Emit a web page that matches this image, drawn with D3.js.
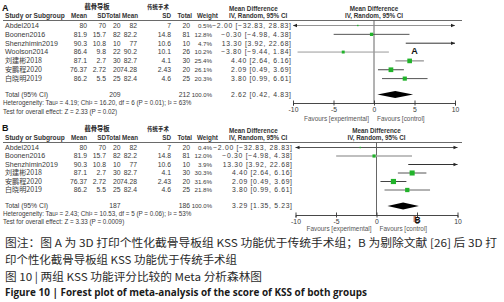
<!DOCTYPE html>
<html><head><meta charset="utf-8">
<script src="https://cdn.jsdelivr.net/npm/d3@7"></script>
<style>
html,body{margin:0;padding:0;background:#fff;}
svg{display:block;}
</style></head>
<body>
<svg id="chart" width="504" height="302"></svg>
<script>
// ---------- data ----------
const studiesA = ["Abdel2014","Boonen2016","Shenzhimin2019","Woolson2014","刘建彬2018","安鹏程2020","白晓明2019"];
const expMeanA = [80, 81.9, 90.3, 86.4, 87.1, 76.37, 86.2];
const expSDA   = [70, 15.7, 10.8, 9.8, 2.7, 2.72, 5.5];
const expNA    = [20, 82, 10, 22, 30, 20, 25];
const ctlMeanA = [82, 82.2, 77, 90.2, 82.7, 74.28, 82.4];
const ctlSDA   = [7, 14.8, 10.6, 10.1, 4.1, 2.43, 4.6];
const ctlNA    = [20, 81, 10, 26, 30, 20, 25];
const weightA  = [0.5, 12.8, 4.7, 10.2, 25.4, 26.1, 20.3];
const mdA      = [-2.00, -0.30, 13.30, -3.80, 4.40, 2.09, 3.80];
const loA      = [-32.83, -4.98, 3.92, -9.44, 2.64, 0.49, 0.99];
const hiA      = [28.83, 4.38, 22.68, 1.84, 6.16, 3.69, 6.61];
const totalA   = {expN: 209, ctlN: 212, md: 2.62, lo: 0.42, hi: 4.83};
const hetA     = "Heterogeneity: Tau² = 4.19; Chi² = 16.20, df = 6 (P = 0.01); I² = 63%";
const testA    = "Test for overall effect: Z = 2.33 (P = 0.02)";

const studiesB = ["Abdel2014","Boonen2016","Shenzhimin2019","刘建彬2018","安鹏程2020","白晓明2019"];
const expMeanB = [80, 81.9, 90.3, 87.1, 76.37, 86.2];
const expSDB   = [70, 15.7, 10.8, 2.7, 2.72, 5.5];
const expNB    = [20, 82, 10, 30, 20, 25];
const ctlMeanB = [82, 82.2, 77, 82.7, 74.28, 82.4];
const ctlSDB   = [7, 14.8, 10.6, 4.1, 2.43, 4.6];
const ctlNB    = [20, 81, 10, 30, 20, 25];
const weightB  = [0.4, 12.0, 3.9, 30.3, 31.6, 21.8];
const mdB      = [-2.00, -0.30, 13.30, 4.40, 2.09, 3.80];
const loB      = [-32.83, -4.98, 3.92, 2.64, 0.49, 0.99];
const hiB      = [28.83, 4.38, 22.68, 6.16, 3.69, 6.61];
const totalB   = {expN: 187, ctlN: 186, md: 3.29, lo: 1.35, hi: 5.23};
const hetB     = "Heterogeneity: Tau² = 2.43; Chi² = 10.53, df = 5 (P = 0.06); I² = 53%";
const testB    = "Test for overall effect: Z = 3.33 (P = 0.0009)";

const axisTicks = [-10, -5, 0, 5, 10];
const groupLabels = ["截骨导板", "传统手术"];
const colHeaders = ["Study or Subgroup","Mean","SD","Total","Mean","SD","Total","Weight"];
const captionLines = [
  "图注：图 A 为 3D 打印个性化截骨导板组 KSS 功能优于传统手术组；B 为剔除文献 [26] 后 3D 打",
  "印个性化截骨导板组 KSS 功能优于传统手术组",
  "图 10  |  两组 KSS 功能评分比较的 Meta 分析森林图",
  "Figure 10  |  Forest plot of meta-analysis of the score of KSS of both groups"
];

// ---------- drawing ----------
const svg = d3.select("#chart");
svg.append("rect").attr("width",504).attr("height",302).attr("fill","#fff");
const FONT = "'Liberation Sans', Arial, 'Noto Sans CJK SC', sans-serif";
const TXT = "#3a3a3a";
const fmt2 = d3.format(".2f");
const ciStr = (m, l, h) => `${fmt2(m)} [${fmt2(l)}, ${fmt2(h)}]`;

function drawPanel(cfg) {
  const g = svg.append("g");
  const n = cfg.studies.length;
  const y = d3.scalePoint().domain(cfg.studies).range([cfg.row0, cfg.row0 + cfg.rowStep*(n-1)]);
  const x = d3.scaleLinear().domain([-10, 10]).range(cfg.xr);

  const t = (xx, yy, s, opts={}) => g.append("text")
      .attr("x", xx).attr("y", yy).text(s)
      .attr("font-family", opts.family || FONT)
      .attr("font-size", opts.size || 6.8)
      .attr("font-weight", opts.weight || "normal")
      .attr("text-anchor", opts.anchor || "start")
      .attr("fill", opts.fill || TXT);
  const ciText = (yy, s) => {
    const el = t(cfg.ciRight, yy, s, {anchor: "end", size: 6.8});
    const w = el.node().getComputedTextLength();
    el.attr("textLength", w * 1.22).attr("lengthAdjust", "spacing");
    return el;
  };

  // panel letter
  t(2, cfg.letterY, cfg.letter, {size: 9, weight: "bold", fill: "#111"});
  // group labels
  t(97, cfg.groupY, groupLabels[0], {size: 6.3, weight:"bold", anchor:"middle", family:"'Noto Sans CJK SC'", fill:"#222"});
  t(158, cfg.groupY, groupLabels[1], {size: 5.4, weight:"bold", anchor:"middle", family:"'Noto Sans CJK SC'", fill:"#222"});
  // column headers
  const hy = cfg.headY;
  const hOpt = {size: 6.3, weight: "bold", fill: "#333"};
  t(5, hy, colHeaders[0], {...hOpt, size: 6.6});
  t(87, hy, colHeaders[1], {...hOpt, anchor:"end"});
  t(106, hy, colHeaders[2], {...hOpt, anchor:"end"});
  t(120.5, hy, colHeaders[3], {...hOpt, anchor:"end"});
  t(138, hy, colHeaders[4], {...hOpt, anchor:"end"});
  t(171, hy, colHeaders[5], {...hOpt, anchor:"end"});
  t(192, hy, colHeaders[6], {...hOpt, anchor:"end"});
  t(197, hy, colHeaders[7], hOpt);
  t(229, hy - 7.5, "Mean Difference", hOpt);
  t(229, hy, "IV, Random, 95% CI", hOpt);
  const xc = (cfg.xr[0] + cfg.xr[1]) / 2;
  t(xc, hy - 7.5, "Mean Difference", {...hOpt, anchor:"middle"});
  t(xc, hy, "IV, Random, 95% CI", {...hOpt, anchor:"middle"});
  // header rule
  g.append("line").attr("x1",3).attr("x2",462).attr("y1",cfg.ruleY).attr("y2",cfg.ruleY)
    .attr("stroke","#444").attr("stroke-width",0.8);

  // rows
  cfg.studies.forEach((s, i) => {
    const yy = y(s) + 2.4;
    const isCJK = /[\u4e00-\u9fff]/.test(s);
    t(5, yy, s, {family: isCJK ? "'Noto Sans CJK SC', sans-serif" : FONT, size: 7.1});
    t(87, yy, String(cfg.expMean[i]), {anchor:"end"});
    t(106, yy, String(cfg.expSD[i]), {anchor:"end"});
    t(120.5, yy, String(cfg.expN[i]), {anchor:"end"});
    t(137, yy, String(cfg.ctlMean[i]), {anchor:"end"});
    t(171, yy, String(cfg.ctlSD[i]), {anchor:"end"});
    t(190, yy, String(cfg.ctlN[i]), {anchor:"end"});
    t(212, yy, cfg.weight[i].toFixed(1) + "%", {anchor:"end", size: 6.2});
    ciText(yy, ciStr(cfg.md[i], cfg.lo[i], cfg.hi[i]));
  });

  // zero line
  g.append("line").attr("x1", x(0)).attr("x2", x(0)).attr("y1", cfg.ruleY).attr("y2", cfg.axisY)
    .attr("stroke", "#555").attr("stroke-width", 0.9);

  // CI lines
  cfg.studies.forEach((s, i) => {
    const yy = y(s);
    const lo = Math.max(cfg.lo[i], -10), hi = Math.min(cfg.hi[i], 10);
    const col = cfg.lineCol[i];
    g.append("line").attr("x1", x(lo)).attr("x2", x(hi)).attr("y1", yy).attr("y2", yy)
      .attr("stroke", col).attr("stroke-width", cfg.lineW[i]);
    if (cfg.hi[i] > 10) {
      const ax = x(10);
      g.append("path").attr("d", `M${ax},${yy} L${ax-4},${yy-1.8} L${ax-4},${yy+1.8} Z`).attr("fill", "#222");
    }
    if (cfg.lo[i] < -10) {
      const ax = x(-10);
      g.append("path").attr("d", `M${ax},${yy} L${ax+4},${yy-1.8} L${ax+4},${yy+1.8} Z`).attr("fill", "#222");
    }
    if (cfg.md[i] >= -10 && cfg.md[i] <= 10) {
      const side = Math.max(1.4, 9.2 * Math.sqrt(cfg.weight[i] / 100));
      g.append("rect").attr("x", x(cfg.md[i]) - side/2).attr("y", yy - side/2)
        .attr("width", side).attr("height", side).attr("fill", "#21b32a");
    }
  });

  // total row
  const ty = cfg.totalY;
  t(5, ty + 2.4, "Total (95% CI)");
  t(120.5, ty + 2.4, String(cfg.total.expN), {anchor:"end"});
  t(190, ty + 2.4, String(cfg.total.ctlN), {anchor:"end"});
  t(212, ty + 2.4, "100.0%", {anchor:"end", size: 6.0});
  ciText(ty + 2.4, ciStr(cfg.total.md, cfg.total.lo, cfg.total.hi));
  const dh = 3.4;
  g.append("path")
    .attr("d", `M${x(cfg.total.lo)},${ty} L${x(cfg.total.md)},${ty-dh} L${x(cfg.total.hi)},${ty} L${x(cfg.total.md)},${ty+dh} Z`)
    .attr("fill", "#000");
  t(3, cfg.hetY + 2.3, cfg.het, {size: 6.3});
  t(3, cfg.testY + 2.3, cfg.test, {size: 6.3});

  // axis
  const axis = d3.axisBottom(x).tickValues(axisTicks).tickSize(2.5).tickPadding(2).tickFormat(d3.format("d"));
  const ag = g.append("g").attr("transform", `translate(0,${cfg.axisY})`).call(axis);
  ag.select(".domain").attr("stroke", "#333").attr("stroke-width", 0.9);
  ag.selectAll(".tick line").attr("stroke", "#333").attr("y1", -2.5).attr("stroke-width", 0.9);
  ag.selectAll(".tick text").attr("font-family", FONT).attr("font-size", 6.8).attr("fill", TXT)
    .text(d => d < 0 ? "-" + Math.abs(d) : String(d));
  t(x(0) - 5, cfg.favY, "Favours [experimental]", {size: 6.4, anchor: "end", fill: "#555"});
  t(x(0) + 3, cfg.favY, "Favours [control]", {size: 6.4, fill: "#555"});
  return {g, x, y};
}

const pA = drawPanel({
  letter: "A", letterY: 11, groupY: 9, headY: 18, ruleY: 20.5,
  row0: 25.5, rowStep: 8.85, totalY: 94.5, hetY: 103, testY: 111.5,
  axisY: 103, favY: 120.5, xr: [293, 455], ciRight: 291,
  studies: studiesA, expMean: expMeanA, expSD: expSDA, expN: expNA,
  ctlMean: ctlMeanA, ctlSD: ctlSDA, ctlN: ctlNA, weight: weightA,
  md: mdA, lo: loA, hi: hiA, total: totalA, het: hetA, test: testA,
  lineCol: ["#888", "#555", "#333", "#999", "#777", "#444", "#555"],
  lineW: [0.9, 1, 1, 1, 1, 1, 1]
});
const pB = drawPanel({
  letter: "B", letterY: 131, groupY: 131, headY: 140, ruleY: 142.5,
  row0: 147.5, rowStep: 8.5, totalY: 206, hetY: 214, testY: 222,
  axisY: 215, favY: 231, xr: [295.5, 457.5], ciRight: 292,
  studies: studiesB, expMean: expMeanB, expSD: expSDB, expN: expNB,
  ctlMean: ctlMeanB, ctlSD: ctlSDB, ctlN: ctlNB, weight: weightB,
  md: mdB, lo: loB, hi: hiB, total: totalB, het: hetB, test: testB,
  lineCol: ["#555", "#aaa", "#333", "#555", "#444", "#666"],
  lineW: [1, 1.4, 1, 1, 1, 1]
});

// panel markers inside the forest plots
svg.append("text").attr("x", pA.x(5)).attr("y", 53.5).attr("text-anchor","middle")
  .attr("font-family", FONT).attr("font-size", 9).attr("font-weight","bold").attr("fill","#111").text("A");
svg.append("rect").attr("x", pB.x(5) - 3.5).attr("y", 216).attr("width", 2.6).attr("height", 6).attr("fill", "#c98563");
svg.append("text").attr("x", pB.x(5) + 0.5).attr("y", 222.5).attr("text-anchor","middle")
  .attr("font-family", FONT).attr("font-size", 8.5).attr("font-weight","bold").attr("fill","#111").text("B");

// caption
const capY = [247, 264, 281, 296];
const capW = [492, 232, 257, 362];
captionLines.forEach((s, i) => {
  svg.append("text").attr("x", 5).attr("y", capY[i]).text(s)
    .attr("font-family", i === 3 ? "'Open Sans', 'Noto Sans', sans-serif" : "'Noto Sans CJK SC', sans-serif")
    .attr("font-size", i === 3 ? 10 : 11)
    .attr("font-weight", i === 3 ? "bold" : "normal")
    .attr("fill", i === 3 ? "#1a1a1a" : "#2a2a2a")
    .attr("textLength", capW[i]).attr("lengthAdjust", "spacingAndGlyphs");
});
</script>
</body></html>
